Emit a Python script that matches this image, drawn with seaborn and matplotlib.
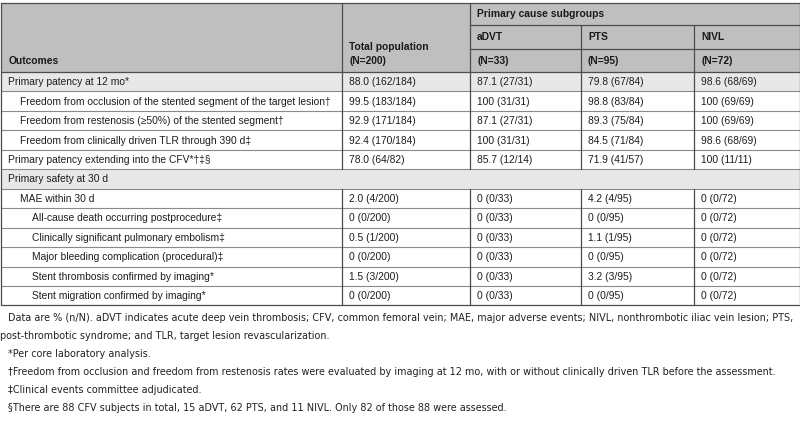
import matplotlib
matplotlib.use("Agg")
import matplotlib.pyplot as plt
from matplotlib import font_manager
from matplotlib.font_manager import FontProperties
import seaborn as sns

# ---------------- data ----------------
outcomes = [
    "Primary patency at 12 mo*",
    "Freedom from occlusion of the stented segment of the target lesion\u2020",
    "Freedom from restenosis (\u226550%) of the stented segment\u2020",
    "Freedom from clinically driven TLR through 390 d\u2021",
    "Primary patency extending into the CFV*\u2020\u2021\u00a7",
    "Primary safety at 30 d",
    "MAE within 30 d",
    "All-cause death occurring postprocedure\u2021",
    "Clinically significant pulmonary embolism\u2021",
    "Major bleeding complication (procedural)\u2021",
    "Stent thrombosis confirmed by imaging*",
    "Stent migration confirmed by imaging*",
]
levels = [0, 1, 1, 1, 0, 0, 1, 2, 2, 2, 2, 2]
shaded = [True, False, False, False, False, True, False, False, False, False, False, False]
spanning = [False, False, False, False, False, True, False, False, False, False, False, False]
total = ["88.0 (162/184)", "99.5 (183/184)", "92.9 (171/184)", "92.4 (170/184)", "78.0 (64/82)", "",
         "2.0 (4/200)", "0 (0/200)", "0.5 (1/200)", "0 (0/200)", "1.5 (3/200)", "0 (0/200)"]
advt = ["87.1 (27/31)", "100 (31/31)", "87.1 (27/31)", "100 (31/31)", "85.7 (12/14)", "",
        "0 (0/33)", "0 (0/33)", "0 (0/33)", "0 (0/33)", "0 (0/33)", "0 (0/33)"]
pts = ["79.8 (67/84)", "98.8 (83/84)", "89.3 (75/84)", "84.5 (71/84)", "71.9 (41/57)", "",
       "4.2 (4/95)", "0 (0/95)", "1.1 (1/95)", "0 (0/95)", "3.2 (3/95)", "0 (0/95)"]
nivl = ["98.6 (68/69)", "100 (69/69)", "100 (69/69)", "98.6 (68/69)", "100 (11/11)", "",
        "0 (0/72)", "0 (0/72)", "0 (0/72)", "0 (0/72)", "0 (0/72)", "0 (0/72)"]
group_header = "Primary cause subgroups"
col_headers = ["Outcomes", "Total population", "aDVT", "PTS", "NIVL"]
col_ns = ["", "(N=200)", "(N=33)", "(N=95)", "(N=72)"]
footnotes = [
    "Data are % (n/N). aDVT indicates acute deep vein thrombosis; CFV, common femoral vein; MAE, major adverse events; NIVL, nonthrombotic iliac vein lesion; PTS,",
    "post-thrombotic syndrome; and TLR, target lesion revascularization.",
    "*Per core laboratory analysis.",
    "\u2020Freedom from occlusion and freedom from restenosis rates were evaluated by imaging at 12 mo, with or without clinically driven TLR before the assessment.",
    "\u2021Clinical events committee adjudicated.",
    "\u00a7There are 88 CFV subjects in total, 15 aDVT, 62 PTS, and 11 NIVL. Only 82 of those 88 were assessed.",
]
foot_indent = [1, 0, 1, 1, 1, 1]

# ---------------- layout ----------------
sns.set_theme(style="white")
plt.rcParams["font.family"] = ["Liberation Sans", "DejaVu Sans"]

W, H = 800, 430
col_x = [0.5, 342, 470, 581, 694, 799.5]
top = 2.5
hdr_rows = [top, 25, 48.5, 72]
row_h = 19.45
n_rows = len(outcomes)
line_c = "#4d4d4d"
hdr_bg = "#bfbfbf"
shade_bg = "#e8e8e8"
txt_c = "#1e1e1e"
fs = 7.35
indent_px = [8, 20, 31]

fig = plt.figure(figsize=(W / 100, H / 100), dpi=100)
ax = fig.add_axes([0, 0, 1, 1])
ax.set_xlim(0, W)
ax.set_ylim(H, 0)
ax.axis("off")

bottom = hdr_rows[-1] + n_rows * row_h

ax.add_patch(plt.Rectangle((col_x[0], top), col_x[-1] - col_x[0], hdr_rows[-1] - top,
                           facecolor=hdr_bg, edgecolor="none", zorder=0))
for i, s in enumerate(shaded):
    if s:
        y0 = hdr_rows[-1] + i * row_h
        ax.add_patch(plt.Rectangle((col_x[0], y0), col_x[-1] - col_x[0], row_h,
                                   facecolor=shade_bg, edgecolor="none", zorder=0))

lw = 0.9
ax.plot([col_x[0], col_x[-1], col_x[-1], col_x[0], col_x[0]],
        [top, top, bottom, bottom, top], color=line_c, lw=lw, zorder=3)
ax.plot([col_x[2], col_x[-1]], [hdr_rows[1]] * 2, color=line_c, lw=lw, zorder=3)
ax.plot([col_x[2], col_x[-1]], [hdr_rows[2]] * 2, color=line_c, lw=lw, zorder=3)
ax.plot([col_x[0], col_x[-1]], [hdr_rows[3]] * 2, color=line_c, lw=lw, zorder=3)
for cx in col_x[1:3]:
    ax.plot([cx, cx], [top, hdr_rows[3]], color=line_c, lw=lw, zorder=3)
for cx in col_x[3:5]:
    ax.plot([cx, cx], [hdr_rows[1], hdr_rows[3]], color=line_c, lw=lw, zorder=3)

for i in range(n_rows):
    y0 = hdr_rows[-1] + i * row_h
    y1 = y0 + row_h
    if i < n_rows - 1:
        ax.plot([col_x[0], col_x[-1]], [y1, y1], color="#8a8a8a", lw=0.8, zorder=2)
    if spanning[i]:
        continue
    for cx in col_x[1:5]:
        ax.plot([cx, cx], [y0, y1], color=line_c, lw=lw, zorder=3)

# header text
hkw = dict(fontsize=fs, fontweight="bold", color="#1a1a1a", va="center", ha="left")
ax.text(col_x[2] + 7, (hdr_rows[0] + hdr_rows[1]) / 2, group_header, **hkw)
ax.text(col_x[0] + 8, (hdr_rows[2] + hdr_rows[3]) / 2 + 1, col_headers[0], **hkw)
ax.text(col_x[1] + 7, (hdr_rows[1] + hdr_rows[2]) / 2 + 10, col_headers[1], **hkw)
ax.text(col_x[1] + 7, (hdr_rows[2] + hdr_rows[3]) / 2 + 1, col_ns[1], **hkw)
for j in range(2, 5):
    ax.text(col_x[j] + 7, (hdr_rows[1] + hdr_rows[2]) / 2, col_headers[j], **hkw)
    ax.text(col_x[j] + 7, (hdr_rows[2] + hdr_rows[3]) / 2 + 1, col_ns[j], **hkw)

# body text
bkw = dict(fontsize=fs, color=txt_c, va="center", ha="left")
for i in range(n_rows):
    yc = hdr_rows[-1] + (i + 0.5) * row_h + 0.5
    ax.text(col_x[0] + indent_px[levels[i]], yc, outcomes[i], **bkw)
    for j, vals in enumerate([total, advt, pts, nivl], start=1):
        if vals[i]:
            ax.text(col_x[j] + 7, yc, vals[i], **bkw)

# footnotes: condensed face if one is installed
cands = []
for f in font_manager.fontManager.ttflist:
    nm = f.name.lower()
    fn = f.fname.lower()
    st = str(f.stretch).lower()
    if f.style != "normal" or f.weight not in (400, "normal", "regular"):
        continue
    score = None
    if "liberation sans narrow" in nm:
        score = 0
    elif "dejavu" in nm and ("condensed" in fn or "condensed" in st):
        score = 1
    elif ("narrow" in nm or "condensed" in nm or "condensed" in fn or "condensed" in st) \
            and "mono" not in nm and "serif" not in nm:
        score = 2
    if score is not None:
        cands.append((score, f.fname))
if cands:
    cands.sort()
    foot_path = cands[0][1]
else:
    foot_path = font_manager.findfont(FontProperties(family="Liberation Sans"))

foot_y0 = 318
foot_dy = 18
target_w = 788
fkw = dict(color="#222222", va="center", ha="left")
ffs = 8.0
for _ in range(3):
    fp = FontProperties(fname=foot_path, size=ffs)
    probe = ax.text(8.5, foot_y0, footnotes[0], fontproperties=fp, **fkw)
    fig.canvas.draw()
    wpx = probe.get_window_extent().width
    probe.remove()
    ffs = ffs * (target_w / wpx)

for k, (t, ind) in enumerate(zip(footnotes, foot_indent)):
    fp = FontProperties(fname=foot_path, size=ffs)
    ax.text(0.5 + 8 * ind, foot_y0 + k * foot_dy, t, fontproperties=fp, **fkw)

fig.savefig("out.png", dpi=100)
